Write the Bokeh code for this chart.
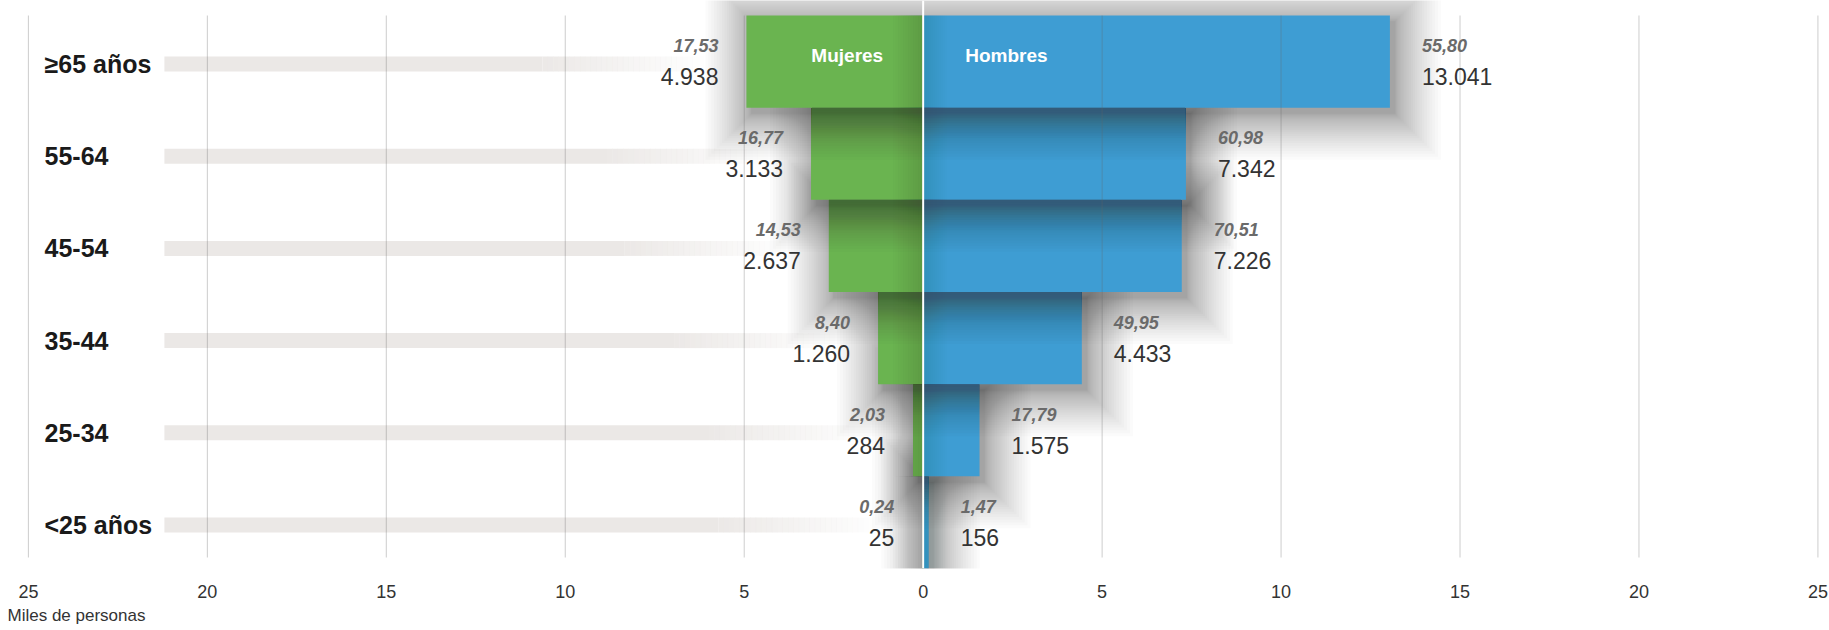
import numpy as np
from bokeh.plotting import figure
from bokeh.models import FixedTicker, Span, Title
from bokeh.core.properties import value
from bokeh.embed import file_html
from bokeh.resources import INLINE

# ---------------- data ----------------
categories = ["<25 años", "25-34", "35-44", "45-54", "55-64", "≥65 años"]
mujeres = [0.025, 0.284, 1.260, 2.637, 3.133, 4.938]
hombres = [0.156, 1.575, 4.433, 7.226, 7.342, 13.041]
mujeres_labels = ["25", "284", "1.260", "2.637", "3.133", "4.938"]
hombres_labels = ["156", "1.575", "4.433", "7.226", "7.342", "13.041"]
mujeres_pct = ["0,24", "2,03", "8,40", "14,53", "16,77", "17,53"]
hombres_pct = ["1,47", "17,79", "49,95", "70,51", "60,98", "55,80"]
series = ["Mujeres", "Hombres"]
tick_values = [-25, -20, -15, -10, -5, 0, 5, 10, 15, 20, 25]
tick_labels = ["25", "20", "15", "10", "5", "0", "5", "10", "15", "20", "25"]
axis_title = "Miles de personas"

# ---------------- layout ----------------
FONT = value("Liberation Sans")
GREEN = "#6ab450"
BLUE = "#3e9dd3"
SHADOW = "#22363f"
X0, X1 = -25.5, 25.1
FRAME_W = 1811
PX_X = (X1 - X0) / FRAME_W
PX_Y = 6.0 / 553
TOP_PAD = 15
rows = list(range(len(categories)))

p = figure(width=1829, height=630, x_range=(X0, X1),
           y_range=(-0.5, 5.5 + TOP_PAD * PX_Y),
           output_backend="svg", toolbar_location=None, y_axis_location=None,
           min_border_left=10, min_border_right=8, min_border_top=0,
           min_border_bottom=62)
p.outline_line_color = None
p.xgrid.visible = False
p.ygrid.visible = False

# gray label bands with fading end
BAND_START = -21.2
for i in rows:
    fade_end = -(mujeres[i] + 1.2)
    fade_start = fade_end - 4.5
    yc = i - 2.5 * PX_Y
    hh = 7.5 * PX_Y
    p.quad(left=[BAND_START], right=[fade_start], bottom=[yc - hh], top=[yc + hh],
           fill_color="#ebe8e6", line_color=None)
    n = 30
    edges = np.linspace(fade_start, fade_end, n + 1)
    alphas = np.linspace(1.0, 0.0, n + 2)[1:-1]
    p.quad(left=edges[:-1], right=edges[1:] + 0.01, bottom=[yc - hh] * n, top=[yc + hh] * n,
           fill_color="#ebe8e6", fill_alpha=alphas, line_color=None)

# soft drop shadows, drawn bottom row first, each row above the previous one
NL = 26
pads = 46.0 * (np.arange(1, NL + 1) / NL) ** 1.7
DX, DY = 5.0, 6.0
ks = np.arange(1, 13)
for i in rows:
    left, right = -mujeres[i], hombres[i]
    bottom, top = i - 0.5, i + 0.5
    p.quad(left=left - pads * PX_X + DX * PX_X,
           right=right + pads * PX_X + DX * PX_X,
           bottom=bottom - pads * PX_Y - DY * PX_Y,
           top=top + pads * PX_Y - DY * PX_Y,
           fill_color=SHADOW, fill_alpha=0.02, line_color=None)
    p.hbar(y=[i], height=1.0, left=[-mujeres[i]], right=[0], fill_color=GREEN, line_color=None)
    p.hbar(y=[i], height=1.0, left=[0], right=[hombres[i]], fill_color=BLUE, line_color=None)
    # subtle inner shading: near the centre line and under the row above
    p.quad(left=-ks * 2.5 * PX_X, right=[0] * len(ks), bottom=[bottom] * len(ks),
           top=[top] * len(ks), fill_color=SHADOW, fill_alpha=0.014, line_color=None)
    p.quad(left=[0] * len(ks), right=ks * 2.0 * PX_X, bottom=[bottom] * len(ks),
           top=[top] * len(ks), fill_color=SHADOW, fill_alpha=0.012, line_color=None)
    if i > 0:
        lo = i - 1
        p.quad(left=[-mujeres[lo]] * len(ks), right=[hombres[lo]] * len(ks),
               bottom=(lo + 0.5) - ks * 2.5 * PX_Y, top=[lo + 0.5] * len(ks),
               fill_color=SHADOW, fill_alpha=0.014, line_color=None)

# vertical gridlines drawn over everything
GRID_TOP, GRID_BOTTOM = 5.5, -0.5 + 11 * PX_Y
p.segment(x0=tick_values, x1=tick_values, y0=[GRID_BOTTOM] * len(tick_values),
          y1=[GRID_TOP] * len(tick_values), line_color="#666666", line_alpha=0.33, line_width=1)

p.add_layout(Span(location=0, dimension="height", line_color="white", line_width=2))

# category labels
p.text(x=[-24.55] * len(rows), y=[i - 2.5 * PX_Y for i in rows], text=categories,
       text_font=FONT, text_font_size="25px", text_font_style="bold",
       text_color="#1a1a1a", text_align="left", text_baseline="middle")

# value labels
p.text(x=[-v for v in mujeres], y=[i - 15 * PX_Y for i in rows], text=mujeres_labels,
       x_offset=-28, text_font=FONT, text_font_size="23px", text_color="#333333",
       text_align="right", text_baseline="middle")
p.text(x=[-v for v in mujeres], y=[i + 16 * PX_Y for i in rows], text=mujeres_pct,
       x_offset=-28, text_font=FONT, text_font_size="18px", text_font_style="bold italic",
       text_color="#6a6a6a", text_align="right", text_baseline="middle")
p.text(x=hombres, y=[i - 15 * PX_Y for i in rows], text=hombres_labels,
       x_offset=32, text_font=FONT, text_font_size="23px", text_color="#333333",
       text_align="left", text_baseline="middle")
p.text(x=hombres, y=[i + 16 * PX_Y for i in rows], text=hombres_pct,
       x_offset=32, text_font=FONT, text_font_size="18px", text_font_style="bold italic",
       text_color="#6a6a6a", text_align="left", text_baseline="middle")

# series names inside the top bars
top_row = rows[-1]
p.text(x=[0], y=[top_row + 6 * PX_Y], text=[series[0]], x_offset=-40,
       text_font=FONT, text_font_size="19px", text_font_style="bold", text_color="white",
       text_align="right", text_baseline="middle")
p.text(x=[0], y=[top_row + 6 * PX_Y], text=[series[1]], x_offset=42,
       text_font=FONT, text_font_size="19px", text_font_style="bold", text_color="white",
       text_align="left", text_baseline="middle")

# x axis
p.xaxis.ticker = FixedTicker(ticks=tick_values)
p.xaxis.major_label_overrides = {v: l for v, l in zip(tick_values, tick_labels)}
p.xaxis.axis_line_color = None
p.xaxis.major_tick_line_color = None
p.xaxis.minor_tick_line_color = None
p.xaxis.major_tick_out = 0
p.xaxis.major_label_standoff = 16
p.xaxis.major_label_text_font = "Liberation Sans"
p.xaxis.major_label_text_font_size = "18px"
p.xaxis.major_label_text_color = "#333333"

p.add_layout(Title(text=axis_title, align="left", offset=-3, standoff=6,
                   text_font="Liberation Sans", text_font_size="17px",
                   text_font_style="normal", text_color="#333333"), "below")

open("out.html", "w").write(file_html(p, INLINE))
